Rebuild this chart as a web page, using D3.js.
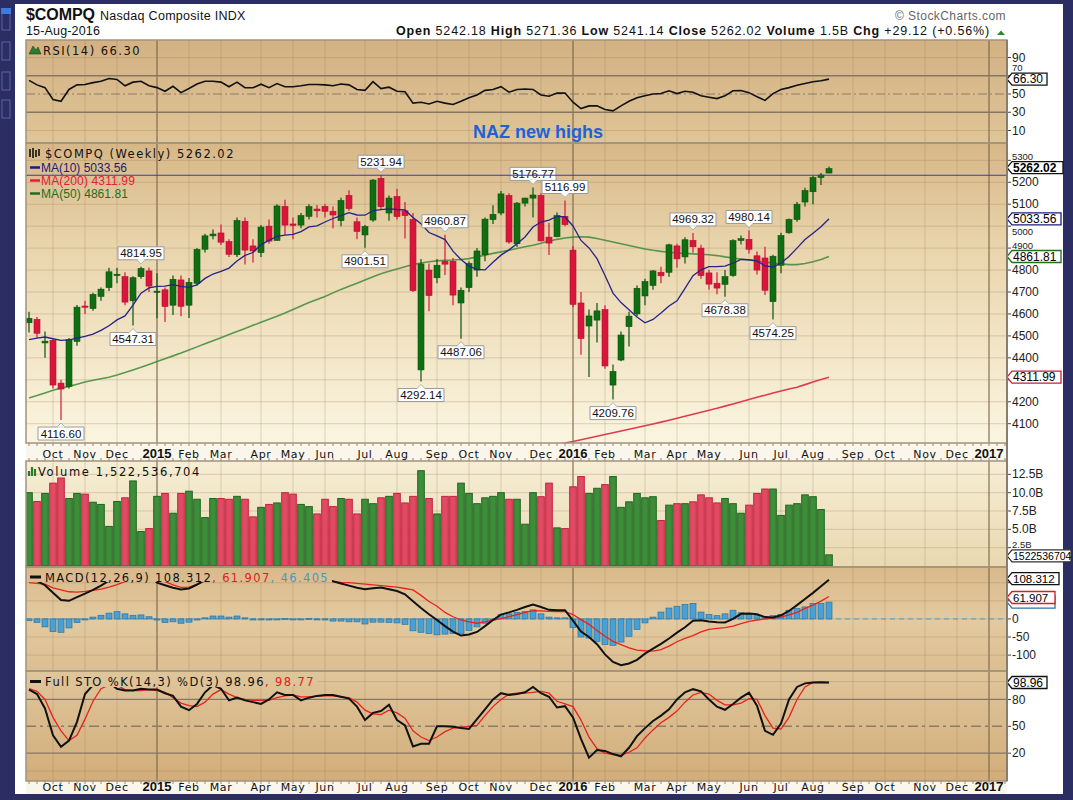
<!DOCTYPE html>
<html><head><meta charset="utf-8">
<script src="https://cdn.jsdelivr.net/npm/d3@7/dist/d3.min.js"></script>
<style>html,body{margin:0;padding:0;background:#2b2d63;}svg{display:block;}</style>
</head><body>
<svg id="chart" width="1073" height="800"></svg>
<script>
// ---------------- DATA (weekly, from 15-Sep-2014 to 15-Aug-2016) ----------------
const priceOpen = [4560,4575,4468,4480,4285,4270,4475,4636,4625,4680,
4720,4775,4770,4660,4770,4796,4700,4710,4640,4755,
4640,4740,4895,4956,4969,4930,4870,5022,4910,4880,
5000,4935,5090,5010,5005,5045,5078,5090,5068,5025,
5140,5020,4960,5028,5218,5060,5135,5070,5030,4345,
4800,4765,4840,4840,4650,4720,4800,4870,5030,5060,
5140,4920,5105,5128,5140,4950,4952,5045,4891,4650,
4545,4572,4620,4276,4390,4542,4600,4682,4730,4790,
4790,4910,4860,4935,4900,4787,4740,4735,4775,4935,
4940,4865,4855,4656,4822,4970,5030,5110,5157,5222,5242.18];
const priceHigh = [4610,4586,4520,4490,4300,4490,4641,4660,4697,4720,
4810,4810,4790,4772,4814.95,4812,4785,4720,4775,4775,
4764,4900,4965,4985,5008,4940,5040,5040,4940,5005,
5030,5100,5120,5040,5060,5100,5097,5100,5090,5130,
5164,5040,5005,5215,5231.94,5140,5170,5110,5060,4850,
4830,4850,4960.87,4855,4720,4840,4900,5040,5095,5160,
5150,5110,5130,5176.77,5150,5014,5062,5116.99,4910,4700,
4620,4650,4640,4370,4520,4610,4730,4760,4800,4815,
4920,4920,4950,4969.32,4915,4800,4790,4800,4940,4958,
4980.14,4885,4906,4870,4970,5035,5110,5175,5230,5242,5271.36];
const priceLow = [4515,4490,4400,4260,4116.60,4260,4455,4600,4615,4660,
4705,4740,4640,4547.31,4760,4700,4580,4563,4595,4590,
4582,4730,4880,4940,4914,4860,4860,4825,4835,4860,
4920,4935,4960,4940,4990,5030,5040,5040,4990,5000,
5070,4940,4901.51,5020,5075,5025,5030,4944,4700,4292.14,
4612,4740,4777,4640,4487.06,4700,4770,4840,5010,5050,
4920,4905,5090,5040,4930,4869,4950,5000,4630,4414,
4313,4470,4350,4209.76,4385,4452,4590,4640,4710,4740,
4770,4810,4830,4880,4760,4710,4690,4678.38,4770,4916,
4875,4780,4686,4574.25,4786,4965,5020,5090,5100,5188,5241.14];
const priceClose = [4580,4512,4476,4276,4258,4484,4631,4632,4689,4713,
4792,4781,4654,4765,4807,4727,4704,4634,4758,4635,
4744,4894,4956,4964,4927,4872,5026,4891,4887,4996,
4932,5092,5005,5004,5048,5089,5070,5068,5051,5117,
5080,4976,4998,5210,5089,5128,5044,5048,4706,4828,
4684,4822,4827,4686,4708,4830,4887,5032,5054,5147,
4928,5105,5128,5142,4933,4923,5048,5007,4644,4488,
4591,4614,4363,4338,4504,4590,4717,4748,4796,4774,
4915,4851,4938,4906,4775,4736,4718,4770,4934,4943,
4895,4800,4708,4863,4957,5030,5100,5162,5221,5233,5262.02];
// volume in billions of shares
const volume = [10.0,8.8,9.9,11.3,12.0,9.2,9.9,9.8,8.7,8.4,
5.4,8.8,9.3,11.6,4.7,5.1,9.5,9.9,7.2,9.9,
10.2,9.1,6.6,9.2,9.2,9.1,9.5,9.1,6.7,8.0,
8.4,8.6,10.0,9.8,8.4,8.1,7.1,9.1,8.1,9.2,
9.1,7.1,9.1,8.5,9.3,9.5,9.9,8.6,9.5,13.0,
9.2,7.1,9.5,9.5,11.3,9.9,8.5,9.3,9.5,10.0,
9.1,9.1,5.7,10.0,9.45,11.3,5.2,5.1,10.8,12.2,
9.9,10.6,11.1,12.2,8.0,8.75,9.9,9.3,9.45,6.2,
8.3,8.5,8.5,8.75,9.7,9.3,8.6,9.2,8.5,7.2,
8.3,9.9,10.5,10.5,6.9,8.3,8.5,9.7,9.45,7.7,1.5225];
const ma10 = [4483,4490,4495,4487,4480,4482,4490,4498,4508,4525,
4546,4573,4591,4640,4695,4719,4726,4727,4734,4726,
4721,4732,4762,4782,4794,4809,4841,4867,4880,4916,
4935,4954,4959,4963,4975,4997,5001,5019,5035,5048,
5062,5051,5050,5071,5075,5079,5076,5074,5040,5011,
4971,4956,4939,4886,4848,4818,4803,4801,4836,4868,
4892,4920,4951,4996,5019,5028,5044,5042,5001,4935,
4901,4852,4775,4695,4652,4619,4586,4560,4575,4604,
4636,4660,4717,4774,4801,4816,4816,4818,4832,4849,
4847,4842,4819,4814,4832,4862,4900,4939,4968,4997,5033.56];
const ma50 = [4217,4228,4240,4252,4262,4270,4280,4290,4298,4305,
4312,4322,4333,4345,4357,4370,4383,4396,4409,4422,
4436,4450,4464,4478,4492,4506,4520,4534,4548,4562,
4576,4590,4604,4620,4636,4652,4666,4680,4696,4712,
4726,4740,4755,4770,4783,4795,4805,4815,4825,4832,
4838,4842,4845,4846,4848,4852,4860,4868,4876,4883,
4890,4898,4906,4913,4922,4932,4940,4946,4950,4952,
4950,4944,4936,4928,4920,4912,4904,4896,4890,4885,
4881,4878,4876,4874,4872,4870,4866,4860,4855,4850,
4846,4841,4836,4832,4828,4825,4825,4830,4838,4848,4861.81];
const ma200 = [null,null,null,null,null,null,null,null,null,null,
null,null,null,null,null,null,null,null,null,null,
null,null,null,null,null,null,null,null,null,null,
null,null,null,null,null,null,null,null,null,null,
null,null,null,null,null,null,null,null,null,null,
null,null,null,null,null,null,null,null,null,null,
3962,3970,3978,3986,3994,4001,4006,4012,4019,4027,
4035,4043,4051,4059,4067,4075,4083,4091,4099,4107,
4116,4125,4134,4143,4152,4161,4170,4180,4190,4200,
4210,4220,4230,4240,4249,4258,4266,4278,4290,4301,4311.99];
const rsi14 = [65,60,57,44,42,55,60,60.5,62.5,64,
67,66,59,63,64,59,57,53,58.5,51.5,
56,61,64,64,63,58,63,57,56.8,60.8,
57,61.5,58,58,59,60.5,60.5,60,59,61,
60,55,54,63.6,56,57.5,53,52.5,40,41,
39,42,40,38.5,42,46,49,54,55,58,
52,55,55.5,55,49,47.5,51,51,41,34,
37,37,33,31.5,37,42,46,48,50,50.5,
53.6,50.5,53,52,48,46.5,45,48,53.6,53.8,
51.5,47,43,50.5,55,57,59.5,61.5,63.5,64.5,66.3];
const macdLine = [112,105,93,72,52,50,60,70,80,92,
106,118,120,122,125,120,100,93,86,81,
84,95,108,118,122,118,122,120,116,118,
116,120,120,118,118,120,119,107,104,98,
92,86,82,85,87,82,77,68,49,30,
13,-3,-20,-35,-46,-43,-36,-20,-3,12,
18,25,33,40,33,25,24,24,-5,-35,
-50,-70,-98,-119,-128,-123,-113,-96,-82,-69,
-54,-38,-23,-5,-4,-7,-9,-10,0,14,
15,13,5,4,10,22,38,55,72,90,108.312];
const macdSignal = [100,98,96,86,80,75,74,76,79,82,
88,95,103,110,114,115,108,103,94,87,
88,95,105,110,114,116,117,118,117,117,
117,118,118,118,118,118,118,116,103,101,
100,98,96,94,92,90,88,84,80,65,
48,35,18,6,-3,-8,-12,-8,-3,1,
6,12,18,23,22,21,20,20,12,-2,
-15,-32,-48,-62,-71,-80,-86,-88,-89,-85,
-75,-63,-54,-46,-36,-29,-26,-24,-20,-13,
-7,-3,0,2,5,11,18,29,38,49,61.907];
const macdHist = [-5,-10,-22,-35,-37,-25,-10,0,5,10,
16,20,14,10,11,6,-3,-10,-8,-12,
-9,-3,3,8,8,5,8,3,-3,-2,
-3,0,1,-1,0,1,-1,-3,-6,-6,
-8,-8,-14,-9,-9,-10,-11,-15,-33,-37,
-40,-44,-42,-40,-40,-32,-22,-12,0,12,
14,18,20,25,14,5,3,3,-24,-50,
-53,-62,-71,-73,-64,-48,-29,-11,5,19,
30,35,40,43,19,12,9,14,24,17,
14,9,5,9,12,24,29,33,43,43,46.405];
const stoK = [91,86,70,40,27,34,55,86,96,98,
99,92,90,90,92,91,91,87,84,72,
68,75,88,96,92,79,82,79,77,75,
80,88,85,85,79,82,84,85,85,83,
81,72,57,65,67,74,57,51,27.5,30.5,
30.5,50,50,49.5,48,47,58,69,80,87,
85,86,88,94,87,83,71,72.5,60,36,
15,23.5,22.5,19,16.5,26,39,48,56,62,
69,80,88,91.5,89,80,72,68.5,75,82,
87.5,73,45,40.5,53,80,94,98,99,99.2,98.96];
const stoD = [92,89,80,60,45,34,40,58,78,92,
96,96,91,90,90,91,90,88,82,76,
73,72,77,86,91,86,82,80,79,79,
79,82,84,85,83,83,84,84,84,83,
82,77,68,64,63,68,65,59,45,38,
34,38,44,48,49,50,51,62,72,80,
86,87,87,88,89,87,78,75,72,57,
38,25,20,18.5,17.5,21,26,37,46,54,
60,67,77,85,88,86,79,74,74,76,
81,80,62,48,47,60,80,94,99,99,98.77];
const annotIdx  = [4,13,14,42,44,49,52,54,63,67,73,83,87,90,93];
const annotVal  = [4116.60,4547.31,4814.95,4901.51,5231.94,4292.14,4960.87,4487.06,5176.77,5116.99,4209.76,4969.32,4678.38,4980.14,4574.25];
const annotKind = ['L','L','H','L','H','L','H','L','H','H','L','H','L','H','L'];
const resistanceLevel = 5231.94;
const monthTickDates = ["2014-10-06","2014-11-03","2014-12-01","2015-01-05","2015-02-02","2015-03-02","2015-04-06","2015-05-04","2015-06-01","2015-07-06","2015-08-03","2015-09-07","2015-10-05","2015-11-02","2015-12-07","2016-01-04","2016-02-01","2016-03-07","2016-04-04","2016-05-02","2016-06-06","2016-07-04","2016-08-01","2016-09-05","2016-10-03","2016-11-07","2016-12-05","2017-01-02"];
const monthTickLabels = ["Oct","Nov","Dec","2015","Feb","Mar","Apr","May","Jun","Jul","Aug","Sep","Oct","Nov","Dec","2016","Feb","Mar","Apr","May","Jun","Jul","Aug","Sep","Oct","Nov","Dec","2017"];
const priceTicks = [4100,4200,4300,4400,4500,4600,4700,4800,4900,5000,5100,5200,5300];
const rsiTicks = [10,30,50,70,90];
const volTicks = [2.5,5,7.5,10,12.5];
const volTickLabels = ["2.5B","5.0B","7.5B","10.0B","12.5B"];
const macdTicks = [-100,-50,0,50,100];
const stoTicks = [20,50,80];

// ---------------- LAYOUT ----------------
const svg = d3.select('#chart');
const defs = svg.append('defs');
const FA = "'Liberation Sans', Arial, sans-serif";
const FV = "'DejaVu Sans', Verdana, sans-serif";
const X0 = 26, X1 = 1007;
const PR = {rsi:[40,143], price:[143,443], vol:[461,567], macd:[567,671], sto:[671,781]};

const weeks = d3.utcMonday.range(new Date(Date.UTC(2014,8,15)), new Date(Date.UTC(2016,7,16)));
const parseD = d3.utcParse("%Y-%m-%d");
const tickDates = monthTickDates.map(parseD);
const x = d3.scaleUtc().domain([new Date(Date.UTC(2014,8,12,9)), new Date(Date.UTC(2017,0,17,18))]).range([X0,X1]);
const yR = d3.scaleLinear().domain([-3.7,109.2]).range([143,40]);
const yP = d3.scaleLinear().domain([4012,5379]).range([443,143]);
const yV = d3.scaleLinear().domain([-0.134,14.32]).range([567,461]);
const yM = d3.scaleLinear().domain([-143.9,143.4]).range([671,567]);
const yS = d3.scaleLinear().domain([-11.1,111.8]).range([781,671]);

function fit(t, w){ const n=t.node(); const L=n.getComputedTextLength(); const c=n.textContent.length; if(c>1) t.attr('letter-spacing', ((w-L)/c).toFixed(3)); return t; }
function grad(id, y0, y1, stops){
  const g = defs.append('linearGradient').attr('id',id).attr('gradientUnits','userSpaceOnUse')
    .attr('x1',0).attr('x2',0).attr('y1',y0).attr('y2',y1);
  stops.forEach(s=>g.append('stop').attr('offset',s[0]).attr('stop-color',s[1]));
}
grad('gR',40,143,[[0,'#d3b183'],[1,'#dfc597']]);
grad('gP',143,443,[[0,'#d7b787'],[0.35,'#e9d5ad'],[1,'#fbf5e0']]);
grad('gV',461,567,[[0,'#f6eed6'],[1,'#e9d8b0']]);
grad('gM',567,671,[[0,'#d9b98a'],[0.5,'#e3caa0'],[1,'#dbbf92']]);
grad('gS',671,781,[[0,'#dfc69b'],[1,'#d2ad7a']]);
Object.entries(PR).forEach(([k,r])=>{
  defs.append('clipPath').attr('id','clip-'+k).append('rect').attr('x',X0).attr('y',r[0]).attr('width',X1-X0).attr('height',r[1]-r[0]);
});

// frame
svg.append('rect').attr('width',1073).attr('height',800).attr('fill','#2b2d63');
svg.append('rect').attr('x',15).attr('y',4).attr('width',1048).attr('height',790).attr('fill','#ffffff');
[12,42,72,100].forEach(yy=>svg.append('rect').attr('x',2).attr('y',yy).attr('width',8).attr('height',18).attr('fill','none').attr('stroke','#5b63a8').attr('stroke-width',1));
svg.append('rect').attr('x',1).attr('y',8).attr('width',10).attr('height',6).attr('fill','#3d7be0');

// panel backgrounds
const bgId = {rsi:'gR',price:'gP',vol:'gV',macd:'gM',sto:'gS'};
Object.entries(PR).forEach(([k,r])=>{
  svg.append('rect').attr('x',X0).attr('y',r[0]).attr('width',X1-X0).attr('height',r[1]-r[0]).attr('fill',`url(#${bgId[k]})`);
});
// date rows
svg.append('rect').attr('x',X0).attr('y',443).attr('width',X1-X0).attr('height',18).attr('fill','#faf6ec');
svg.append('rect').attr('x',X0).attr('y',781).attr('width',X1-X0).attr('height',13).attr('fill','#faf6ec');

// vertical grid
Object.entries(PR).forEach(([k,r])=>{
  const g = svg.append('g');
  tickDates.forEach((d,i)=>{
    const yr = /^20/.test(monthTickLabels[i]);
    g.append('line').attr('x1',x(d)).attr('x2',x(d)).attr('y1',r[0]).attr('y2',r[1])
      .attr('stroke', yr ? 'rgba(120,100,70,0.55)' : 'rgba(150,120,80,0.28)').attr('stroke-width', yr?2:1);
  });
});
// horizontal grids
function hgrid(ticks, ys, col){ ticks.forEach(t=>svg.append('line').attr('x1',X0).attr('x2',X1).attr('y1',ys(t)).attr('y2',ys(t)).attr('stroke',col||'rgba(150,120,80,0.28)').attr('stroke-width',1)); }
hgrid(priceTicks, yP);
hgrid([10,90], yR);
hgrid(volTicks, yV);
hgrid(macdTicks, yM);
hgrid([0,100], yS);

// RSI reference lines
[70,30].forEach(v=>svg.append('line').attr('x1',X0).attr('x2',X1).attr('y1',yR(v)).attr('y2',yR(v)).attr('stroke','#857766').attr('stroke-width',1.6));
svg.append('line').attr('x1',X0).attr('x2',X1).attr('y1',yR(50)).attr('y2',yR(50)).attr('stroke','#8a7c6a').attr('stroke-width',1).attr('stroke-dasharray','9,3,2,3');
// STO reference lines
[80,20].forEach(v=>svg.append('line').attr('x1',X0).attr('x2',X1).attr('y1',yS(v)).attr('y2',yS(v)).attr('stroke','#857766').attr('stroke-width',1.3));
svg.append('line').attr('x1',X0).attr('x2',X1).attr('y1',yS(50)).attr('y2',yS(50)).attr('stroke','#8a7c6a').attr('stroke-width',1.6).attr('stroke-dasharray','10,4,3,4');

// ---------------- RSI ----------------
const line = (ys, arr)=> d3.line().defined((d,i)=>arr[i]!=null).x((d,i)=>x(weeks[i])).y((d,i)=>ys(arr[i]))(weeks);
svg.append('path').attr('d',line(yR,rsi14)).attr('fill','none').attr('stroke','#111').attr('stroke-width',1.6).attr('clip-path','url(#clip-rsi)');

// ---------------- PRICE ----------------
const gp = svg.append('g').attr('clip-path','url(#clip-price)');
gp.append('path').attr('d',line(yP,ma200)).attr('fill','none').attr('stroke','#e23a4e').attr('stroke-width',1.6);
gp.append('path').attr('d',line(yP,ma50)).attr('fill','none').attr('stroke','#3d8a3a').attr('stroke-width',1.6).attr('opacity',0.85);
const UPF='#0f6e12', UPS='#0a520c', DNF='#d8163c', DNS='#b30f30';
weeks.forEach((d,i)=>{
  const cx = x(d), up = priceClose[i] >= priceOpen[i];
  gp.append('line').attr('x1',cx).attr('x2',cx).attr('y1',yP(priceHigh[i])).attr('y2',yP(priceLow[i]))
    .attr('stroke', up?UPS:DNF).attr('stroke-width',1.2);
  const yt = yP(Math.max(priceOpen[i],priceClose[i])), yb = yP(Math.min(priceOpen[i],priceClose[i]));
  gp.append('rect').attr('x',cx-3).attr('y',yt).attr('width',6).attr('height',Math.max(1.2,yb-yt))
    .attr('fill', up?UPF:DNF).attr('stroke', up?UPS:DNS).attr('stroke-width',0.6);
});
gp.append('path').attr('d',line(yP,ma10)).attr('fill','none').attr('stroke','#24248a').attr('stroke-width',1.3);

// annotations
annotIdx.forEach((i,k)=>{
  const cx = x(weeks[i]), v = annotVal[k], yy = yP(v), hi = annotKind[k]==='H';
  const bw=46, bh=13, by = hi ? yy-7-bh : yy+7;
  const g = svg.append('g');
  const ny = hi ? by+bh : by, dir = hi ? 1 : -1;
  g.append('path').attr('d',`M${cx-bw/2},${by} H${cx+bw/2} V${by+bh} H${cx-bw/2} Z`).attr('fill','#fff').attr('stroke','#9a9a9a').attr('stroke-width',1);
  g.append('path').attr('d',`M${cx-4},${ny} L${cx},${ny+dir*4} L${cx+4},${ny} Z`).attr('fill','#fff').attr('stroke','#9a9a9a').attr('stroke-width',0.8);
  g.append('line').attr('x1',cx-3.5).attr('x2',cx+3.5).attr('y1',ny).attr('y2',ny).attr('stroke','#fff').attr('stroke-width',1.2);
  g.append('text').attr('x',cx).attr('y',by+10.5).attr('text-anchor','middle').attr('font-family',FA).attr('font-size',11.5).attr('fill','#111').text(v.toFixed(2));
});
// resistance line
svg.append('line').attr('x1',X0).attr('x2',X1).attr('y1',yP(resistanceLevel)).attr('y2',yP(resistanceLevel)).attr('stroke','#3a3aa8').attr('stroke-width',1.2);

// ---------------- VOLUME ----------------
const gv = svg.append('g').attr('clip-path','url(#clip-vol)');
weeks.forEach((d,i)=>{
  const up = priceClose[i] >= priceOpen[i];
  gv.append('rect').attr('x',x(d)-3.3).attr('y',yV(volume[i])).attr('width',6.6).attr('height',yV(0)-yV(volume[i]))
    .attr('fill', up?'#3e8d3b':'#e04a62').attr('stroke', up?'#1f661d':'#c4203e').attr('stroke-width',1);
});

// ---------------- MACD ----------------
const gm = svg.append('g').attr('clip-path','url(#clip-macd)');
gm.append('line').attr('x1',X0).attr('x2',X1).attr('y1',yM(0)).attr('y2',yM(0)).attr('stroke','#4a9fcf').attr('stroke-width',1).attr('stroke-dasharray','5,4');
weeks.forEach((d,i)=>{
  const v = macdHist[i], y0=yM(0), y1=yM(v);
  gm.append('rect').attr('x',x(d)-3).attr('y',Math.min(y0,y1)).attr('width',6).attr('height',Math.max(1,Math.abs(y1-y0)))
    .attr('fill','#4aa0d2').attr('stroke','#2a74a2').attr('stroke-width',0.7);
});
gm.append('path').attr('d',line(yM,macdSignal)).attr('fill','none').attr('stroke','#e8231f').attr('stroke-width',1.3);
gm.append('path').attr('d',line(yM,macdLine)).attr('fill','none').attr('stroke','#111').attr('stroke-width',2);

// ---------------- STO ----------------
const gs = svg.append('g').attr('clip-path','url(#clip-sto)');
gs.append('path').attr('d',line(yS,stoD)).attr('fill','none').attr('stroke','#e8231f').attr('stroke-width',1.3);
gs.append('path').attr('d',line(yS,stoK)).attr('fill','none').attr('stroke','#111').attr('stroke-width',2);

// label backgrounds hiding lines under titles
svg.append('rect').attr('x',X0).attr('y',567.5).attr('width',306).attr('height',14.5).attr('fill','url(#gM)');
svg.append('rect').attr('x',X0).attr('y',671.5).attr('width',292).attr('height',15.5).attr('fill','url(#gS)');

// panel borders
Object.values(PR).forEach(r=>{
  svg.append('rect').attr('x',X0).attr('y',r[0]).attr('width',X1-X0).attr('height',r[1]-r[0]).attr('fill','none').attr('stroke','#a3927c').attr('stroke-width',1.5);
});
// weekly tick marks on the date rows
const wk = d3.utcMonday.range(new Date(Date.UTC(2014,8,15)), new Date(Date.UTC(2017,0,17)));
wk.forEach(d=>{
  [[443,446],[458,461],[781,784]].forEach(p=>svg.append('line').attr('x1',x(d)).attr('x2',x(d)).attr('y1',p[0]).attr('y2',p[1]).attr('stroke','#9a8a76').attr('stroke-width',1));
});
// date labels
[458,791].forEach(by=>{
  tickDates.forEach((d,i)=>{
    const yr = /^20/.test(monthTickLabels[i]);
    svg.append('text').attr('x',x(d)).attr('y',by).attr('text-anchor','middle').attr('font-family', yr?FA:FV)
      .attr('font-size', yr?13:11).attr('font-weight', yr?'bold':'normal').attr('letter-spacing', yr?0:0.6).attr('fill','#111').text(monthTickLabels[i]);
  });
});

// right-edge value tags (drawn over the axis labels, as in the original)
const tags = [
  {ys:yR, v:rsi14[100], txt:rsi14[100].toFixed(2), c:'#111', w:40},
  {ys:yP, v:ma200[100], txt:ma200[100].toFixed(2), c:'#c81e3c', w:54},
  {ys:yP, v:ma50[100], txt:ma50[100].toFixed(2), c:'#1f6e1f', w:54},
  {ys:yP, v:ma10[100], txt:ma10[100].toFixed(2), c:'#1c1c78', w:54},
  {ys:yP, v:priceClose[100], txt:priceClose[100].toFixed(2), c:'#111', w:56, bold:true, dy:-1},
  {ys:yV, v:volume[100], txt:'1522536704', c:'#333', w:64, fs:10.5, dy:1},
  {ys:yM, v:macdHist[100], txt:null, c:'#2a74a2', w:48},
  {ys:yM, v:macdSignal[100], txt:macdSignal[100].toFixed(3), c:'#d0202a', w:48, fs:11.5, dy:1},
  {ys:yM, v:macdLine[100], txt:macdLine[100].toFixed(3), c:'#111', w:52, fs:11.5, dy:-1},
  {ys:yS, v:stoK[100], txt:stoK[100].toFixed(2), c:'#111', w:40}
];
// axis labels: hidden when covered by a value tag, nudged clear (and shrunk) when partly covered
function axisLabels(ticks, ys, labels){
  const mine = tags.filter(tg=>tg.ys===ys).map(tg=>tg.ys(tg.v)+(tg.dy||0));
  ticks.forEach((t,i)=>{
    const yy = ys(t);
    svg.append('line').attr('x1',X1).attr('x2',X1+4).attr('y1',yy).attr('y2',yy).attr('stroke','#444');
    let ly = yy, hidden = false, fs = 12;
    mine.forEach(ty=>{
      const d = yy - ty;
      if(Math.abs(d) < 3) hidden = true;
      else if(Math.abs(d) < 13){ fs = 9.5; ly = d < 0 ? Math.min(ly, ty-11) : Math.max(ly, ty+12.5); }
    });
    if(fs < 12 && mine.some(ty=>Math.abs(ty-ly) < 8)) hidden = true;
    if(!hidden) svg.append('text').attr('x',X1+5).attr('y',ly+fs*0.34).attr('font-family',FA).attr('font-size',fs).attr('fill','#222').text(labels?labels[i]:t);
  });
}
axisLabels(rsiTicks, yR);
axisLabels(priceTicks, yP);
axisLabels(volTicks, yV, volTickLabels);
axisLabels(macdTicks, yM);
axisLabels(stoTicks, yS);

tags.forEach(tg=>{
  const x0 = X1, h = 12, yc = tg.ys(tg.v)+(tg.dy||0);
  svg.append('path').attr('d',`M${x0},${yc} L${x0+5},${yc-h/2} H${x0+tg.w} V${yc+h/2} H${x0+5} Z`).attr('fill','#fff').attr('stroke',tg.c).attr('stroke-width',1.3);
  if(tg.txt) svg.append('text').attr('x',x0+6).attr('y',yc+4.2).attr('font-family',FA).attr('font-size',tg.fs||12).attr('font-weight',tg.bold?'bold':'normal').attr('fill','#000').text(tg.txt);
});
svg.append('line').attr('x1',X1).attr('x2',X1).attr('y1',40).attr('y2',781).attr('stroke','#8a7d6c').attr('stroke-width',2);

// ---------------- TEXT ----------------
fit(svg.append('text').attr('x',26).attr('y',20).attr('font-family',FA).attr('font-size',16).attr('font-weight','bold').attr('fill','#111').text('$COMPQ'),69);
fit(svg.append('text').attr('x',100).attr('y',20).attr('font-family',FA).attr('font-size',12.5).attr('fill','#111').text('Nasdaq Composite  INDX'),146);
fit(svg.append('text').attr('x',26).attr('y',35).attr('font-family',FA).attr('font-size',12.5).attr('fill','#111').text('15-Aug-2016'),74);
fit(svg.append('text').attr('x',895).attr('y',20).attr('font-family',FA).attr('font-size',12).attr('fill','#666').text('© StockCharts.com'),111);
{
  const t = svg.append('text').attr('x',396).attr('y',35).attr('font-family',FA).attr('font-size',12.5).attr('fill','#111');
  const parts = [['Open',1],[' 5242.18  ',0],['High',1],[' 5271.36  ',0],['Low',1],[' 5241.14  ',0],['Close',1],[' 5262.02  ',0],['Volume',1],[' 1.5B  ',0],['Chg',1],[' +29.12 (+0.56%)',0]];
  parts.forEach(p=>t.append('tspan').attr('font-weight',p[1]?'bold':'normal').text(p[0]));
  fit(t,598);
  svg.append('path').attr('d','M997,35 L1001,30.5 L1005,35 Z').attr('fill','#2a8a2a');
}
// RSI title
svg.append('path').attr('d','M29,54 L33,46 L36,50 L38,47 L41,54 Z').attr('fill','#2f7a2f').attr('stroke','#1a4a1a').attr('stroke-width',0.6);
fit(svg.append('text').attr('x',43).attr('y',54.5).attr('font-family',FV).attr('font-size',11.5).attr('fill','#111').text('RSI(14) 66.30'),98);
// NAZ note
svg.append('text').attr('x',538).attr('y',138).attr('text-anchor','middle').attr('font-family',FA).attr('font-size',18).attr('font-weight','bold').attr('fill','#1d62d8').text('NAZ new highs');
// price legend
svg.append('path').attr('d','M30,149 V157 M33,148 V158 M36,150 V157 M39,149 V156').attr('stroke','#111').attr('stroke-width',1.6);
fit(svg.append('text').attr('x',45).attr('y',158).attr('font-family',FV).attr('font-size',11.5).attr('fill','#111').text('$COMPQ (Weekly) 5262.02'),190);
[['MA(10) 5033.56','#1c1c78',171.5,86],['MA(200) 4311.99','#e0203c',184.5,94],['MA(50) 4861.81','#1e6e1e',197.5,87]].forEach(m=>{
  svg.append('line').attr('x1',30).attr('x2',40).attr('y1',m[2]-4).attr('y2',m[2]-4).attr('stroke',m[1]).attr('stroke-width',2.5);
  fit(svg.append('text').attr('x',41).attr('y',m[2]).attr('font-family',FA).attr('font-size',12).attr('fill',m[1]).text(m[0]),m[3]);
});
// volume title
svg.append('path').attr('d','M29,476 V471 M32,476 V467 M35,476 V469').attr('stroke','#2a7a2a').attr('stroke-width',2.2);
fit(svg.append('text').attr('x',38).attr('y',476).attr('font-family',FV).attr('font-size',11.5).attr('fill','#111').text('Volume 1,522,536,704'),163);
// MACD title
svg.append('line').attr('x1',30).attr('x2',41).attr('y1',577).attr('y2',577).attr('stroke','#111').attr('stroke-width',3);
{
  const t = svg.append('text').attr('x',45).attr('y',581.5).attr('font-family',FV).attr('font-size',11.5).attr('fill','#111');
  t.append('tspan').text('MACD(12,26,9) 108.312');
  t.append('tspan').attr('fill','#e02020').text(', 61.907');
  t.append('tspan').attr('fill','#4a98c0').text(', 46.405');
  fit(t,284);
}
// STO title
svg.append('line').attr('x1',30).attr('x2',41).attr('y1',681.5).attr('y2',681.5).attr('stroke','#111').attr('stroke-width',3);
{
  const t = svg.append('text').attr('x',45).attr('y',686).attr('font-family',FV).attr('font-size',11.5).attr('fill','#111');
  t.append('tspan').text('Full STO %K(14,3) %D(3) 98.96');
  t.append('tspan').attr('fill','#e02020').text(', 98.77');
  fit(t,270);
}
</script>
</body></html>
